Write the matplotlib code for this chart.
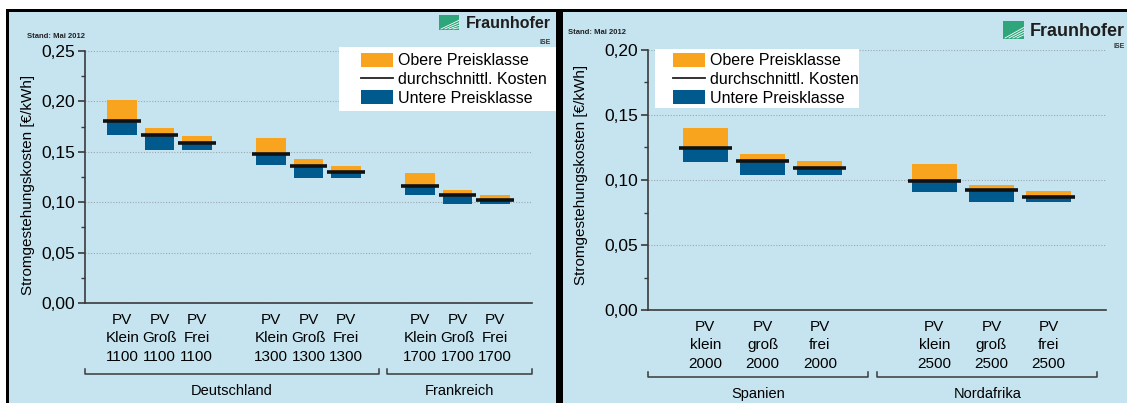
import matplotlib
matplotlib.use("Agg")
import matplotlib.pyplot as plt
from matplotlib.patches import Rectangle, Patch
from matplotlib.lines import Line2D
from matplotlib.ticker import MultipleLocator, FuncFormatter
from matplotlib.transforms import blended_transform_factory

plt.rcParams["font.family"] = ["Liberation Sans", "DejaVu Sans"]

# Deutschland / Frankreich
de_labels = ["PV\nKlein\n1100", "PV\nGroß\n1100", "PV\nFrei\n1100",
             "PV\nKlein\n1300", "PV\nGroß\n1300", "PV\nFrei\n1300",
             "PV\nKlein\n1700", "PV\nGroß\n1700", "PV\nFrei\n1700"]
de_pos = [0, 1, 2, 4, 5, 6, 8, 9, 10]
de_low = [0.167, 0.152, 0.152, 0.137, 0.124, 0.124, 0.1075, 0.098, 0.098]
de_mean = [0.1805, 0.1665, 0.159, 0.1475, 0.136, 0.130, 0.116, 0.1075, 0.102]
de_high = [0.201, 0.174, 0.166, 0.164, 0.1425, 0.136, 0.129, 0.112, 0.107]

# Spanien / Nordafrika
es_labels = ["PV\nklein\n2000", "PV\ngroß\n2000", "PV\nfrei\n2000",
             "PV\nklein\n2500", "PV\ngroß\n2500", "PV\nfrei\n2500"]
es_pos = [0, 1, 2, 4, 5, 6]
es_low = [0.114, 0.104, 0.104, 0.091, 0.083, 0.083]
es_mean = [0.1245, 0.1145, 0.1095, 0.0995, 0.092, 0.087]
es_high = [0.140, 0.120, 0.115, 0.112, 0.096, 0.0915]

ORANGE = "#f8a41f"
BLUE = "#005a8d"
BG = "#c6e4f0"
W, H = 1127.0, 403.0


def fx(px):
    return px / W


def fy(py):
    return 1 - py / H


fig = plt.figure(figsize=(11.27, 4.03), dpi=100)
fig.patch.set_facecolor("white")

# Rahmen und Hintergrund der beiden Bilder
fig.add_artist(Rectangle((fx(6), 0), fx(1127 - 6), fy(9), transform=fig.transFigure,
                         facecolor="black", edgecolor="none", zorder=-3))
fig.add_artist(Rectangle((fx(9), 0), fx(556 - 9), fy(12), transform=fig.transFigure,
                         facecolor=BG, edgecolor="none", zorder=-2))
fig.add_artist(Rectangle((fx(563), 0), fx(1127 - 563), fy(12), transform=fig.transFigure,
                         facecolor=BG, edgecolor="none", zorder=-2))


def comma(v, p):
    return ("%.2f" % v).replace(".", ",")


def make_axes(rect, ymax, pos, low, mean, high, labels, bw, lw_w):
    ax = fig.add_axes(rect)
    ax.set_facecolor("none")
    ax.set_xlim(-1, max(pos) + 1)
    ax.set_ylim(0, ymax)
    for s in ["top", "right"]:
        ax.spines[s].set_visible(False)
    for s in ["left", "bottom"]:
        ax.spines[s].set_color("#3a3a3a")
        ax.spines[s].set_linewidth(1.2)
    ax.yaxis.set_major_locator(MultipleLocator(0.05))
    ax.yaxis.set_minor_locator(MultipleLocator(0.025))
    ax.yaxis.set_major_formatter(FuncFormatter(comma))
    ax.tick_params(axis="y", which="major", length=5, width=1.2, color="#3a3a3a",
                   labelsize=12.5, pad=2)
    ax.tick_params(axis="y", which="minor", length=3, width=1.0, color="#3a3a3a")
    ax.grid(axis="y", which="major", linestyle=(0, (1, 1.5)), color="#9aa8b0", linewidth=0.8)
    ax.set_axisbelow(True)
    lows = [m - l for m, l in zip(mean, low)]
    highs = [h - m for h, m in zip(high, mean)]
    ax.bar(pos, lows, bottom=low, width=bw, color=BLUE, zorder=2)
    ax.bar(pos, highs, bottom=mean, width=bw, color=ORANGE, zorder=2)
    ax.hlines(mean, [p - lw_w / 2 for p in pos], [p + lw_w / 2 for p in pos],
              colors="#111111", linewidth=2.6, zorder=3)
    ax.set_xticks(pos)
    ax.set_xticklabels(labels, fontsize=11, linespacing=1.4)
    ax.tick_params(axis="x", length=0, pad=7)
    ax.set_ylabel("Stromgestehungskosten [€/kWh]", fontsize=11)
    return ax


ax1 = make_axes([fx(85), fy(303), fx(532 - 85), (303 - 51) / H], 0.25,
                de_pos, de_low, de_mean, de_high, de_labels, 0.8, 1.02)
ax1.yaxis.set_label_coords((35 - 85) / (532 - 85), 0.47)
ax2 = make_axes([fx(648), fy(310), fx(1106 - 648), (310 - 50) / H], 0.20,
                es_pos, es_low, es_mean, es_high, es_labels, 0.79, 0.93)
ax2.yaxis.set_label_coords((588 - 648) / (1106 - 648), 0.52)


def bracket(ax, x0, x1, ypx, text, typx):
    tr = blended_transform_factory(ax.transData, fig.transFigure)
    ax.add_line(Line2D([x0, x0, x1, x1], [fy(ypx - 5), fy(ypx), fy(ypx), fy(ypx - 5)],
                       transform=tr, color="#3a3a3a", linewidth=1.1, clip_on=False))
    ax.text((x0 + x1) / 2, fy(typx), text, transform=tr, ha="center", va="center",
            fontsize=10.5)


bracket(ax1, -1, 6.9, 374, "Deutschland", 391)
bracket(ax1, 7.1, 11, 374, "Frankreich", 391)
bracket(ax2, -1, 2.85, 377, "Spanien", 394)
bracket(ax2, 3.0, 6.85, 377, "Nordafrika", 394)

# Legenden: weisser Kasten, darin die Legende ohne Rahmen
handles = [Patch(facecolor=ORANGE, edgecolor="none"),
           Line2D([0], [0], color="#222222", linewidth=1.3),
           Patch(facecolor=BLUE, edgecolor="none")]
names = ["Obere Preisklasse", "durchschnittl. Kosten", "Untere Preisklasse"]
for bx0, by0, bx1, by1, lx, ly, fs in [(339, 47, 556, 111, 361, 53, 11.5),
                                       (655, 49, 859, 108, 673, 53, 11.5)]:
    fig.add_artist(Rectangle((fx(bx0), fy(by1)), fx(bx1 - bx0), (by1 - by0) / H,
                             transform=fig.transFigure, facecolor="white",
                             edgecolor="none", zorder=4))
    leg = fig.legend(handles, names, loc="upper left", bbox_to_anchor=(fx(lx), fy(ly)),
                     fontsize=fs, frameon=False, handlelength=2.0, handleheight=0.95,
                     handletextpad=0.3, labelspacing=0.2, borderpad=0, borderaxespad=0)
    leg.set_zorder(5)

# Stand und Logo
for x0, y0 in [(27, 36), (568, 33)]:
    fig.text(fx(x0), fy(y0), "Stand: Mai 2012", fontsize=5.5, fontweight="bold",
             va="center", ha="left", color="#222222")

for ix, iy, iw, ih, tx, ty, fs, isy in [(439, 15, 20, 15, 551, 23, 11.5, 42),
                                         (1003, 21, 21, 18, 1125, 31, 13, 47)]:
    fig.add_artist(Rectangle((fx(ix), fy(iy + ih)), fx(iw), ih / H, transform=fig.transFigure,
                             facecolor="#2fa57c", edgecolor="none"))
    for k in range(4):
        fig.add_artist(Line2D([fx(ix + 2 + k * 4), fx(ix + iw)],
                              [fy(iy + ih - 1), fy(iy + ih * 0.35 + k * 2.5)],
                              transform=fig.transFigure, color="white", linewidth=0.6))
    fig.text(fx(tx), fy(ty), "Fraunhofer", fontsize=fs, fontweight="bold",
             va="center", ha="right", color="#1e1e1e")
    fig.text(fx(tx), fy(isy), "ISE", fontsize=5, fontweight="bold",
             va="center", ha="right", color="#333333")

fig.savefig("out.png", dpi=100)
